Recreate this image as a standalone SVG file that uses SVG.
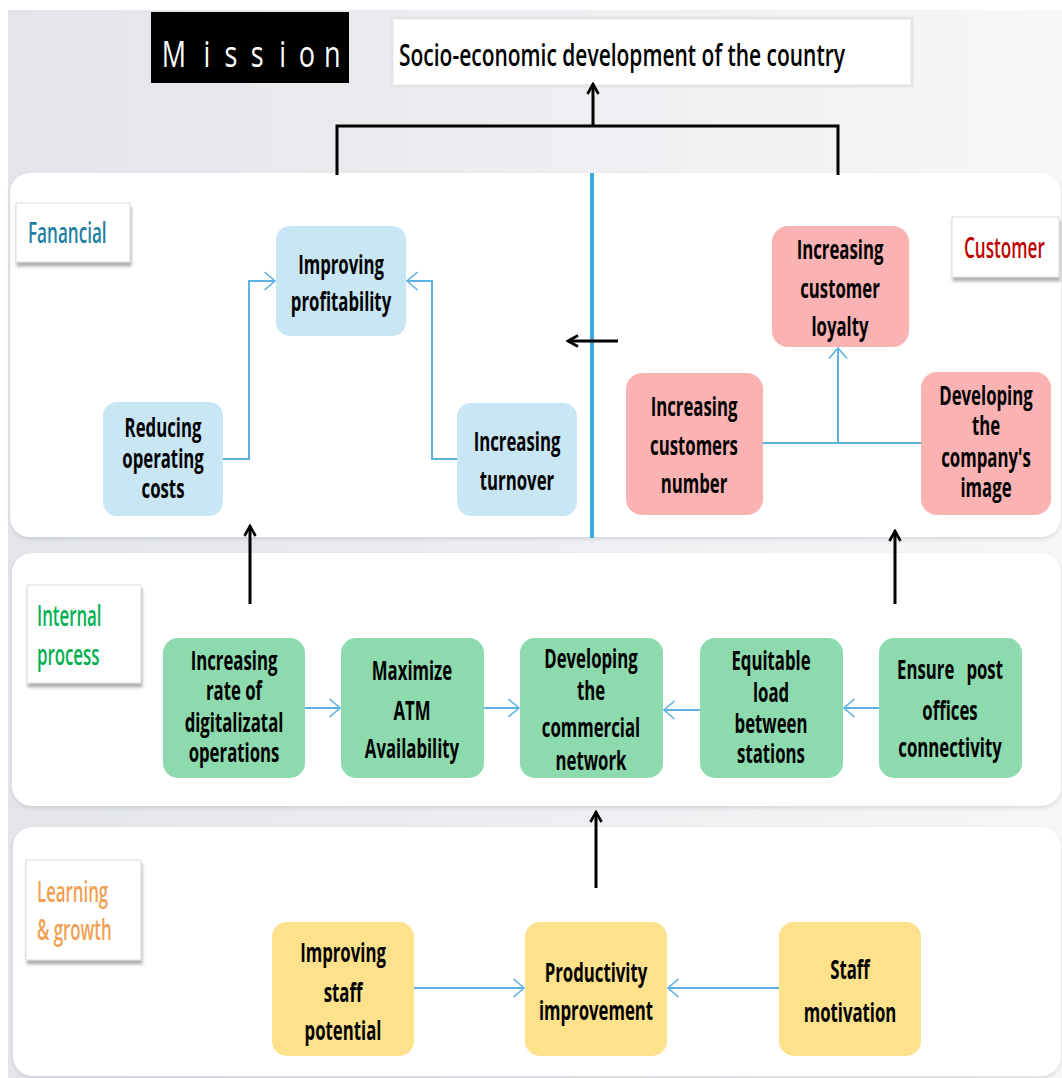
<svg xmlns="http://www.w3.org/2000/svg" width="1062" height="1078" viewBox="0 0 1062 1078">
  <defs>
    <linearGradient id="bg" x1="0" y1="0" x2="1" y2="0">
      <stop offset="0" stop-color="#e3e5ea"/>
      <stop offset="1" stop-color="#f7f7f8"/>
    </linearGradient>
    <filter id="shadow" x="-20%" y="-20%" width="150%" height="160%">
      <feDropShadow dx="1" dy="4" stdDeviation="1.5" flood-color="#6f6f6f" flood-opacity="0.55"/>
    </filter>
    <filter id="panelShadow" x="-5%" y="-5%" width="110%" height="115%">
      <feDropShadow dx="0" dy="2" stdDeviation="2" flood-color="#9aa0aa" flood-opacity="0.35"/>
    </filter>
    <marker id="arrowBlue" markerUnits="userSpaceOnUse" markerWidth="14" markerHeight="22" viewBox="0 0 14 22" refX="12.5" refY="11" orient="auto">
      <path d="M2,2 L12.5,11 L2,20" fill="none" stroke="#5cb3e3" stroke-width="1.6"/>
    </marker>
    <marker id="arrowBlack" markerUnits="userSpaceOnUse" markerWidth="16" markerHeight="16" viewBox="0 0 16 16" refX="14" refY="8" orient="auto">
      <path d="M4,2.5 L14,8 L4,13.5" fill="none" stroke="#000" stroke-width="2.6"/>
    </marker>
  </defs>
  <style>
    .panel { fill: #ffffff; }
    .tag { fill: #ffffff; stroke: #dcdcdc; stroke-width: 1; }
    .tagtext { font-family: "Open Sans", "Noto Sans", sans-serif; font-weight: 600; font-size: 29px; }
    .fin { fill: #c8e6f4; }
    .cus { fill: #fbb2b2; }
    .ip { fill: #8ddaae; }
    .lg { fill: #fde18b; }
    .t { font-family: "Open Sans", "Noto Sans", sans-serif; font-weight: 700; font-size: 26px; fill: #000; text-anchor: middle; }
    .blue { fill: none; stroke: #5cb3e3; stroke-width: 2; }
    .black { fill: none; stroke: #000; stroke-width: 3; }
  </style>

  <!-- background -->
  <rect x="0" y="0" width="1062" height="1078" fill="#ffffff"/>
  <rect x="8" y="10" width="1054" height="1068" fill="url(#bg)"/>

  <!-- perspective panels -->
  <rect class="panel" x="10" y="173" width="1051" height="364" rx="20" filter="url(#panelShadow)"/>
  <rect class="panel" x="12" y="553" width="1049" height="253" rx="20" filter="url(#panelShadow)"/>
  <rect class="panel" x="13" y="827" width="1048" height="249" rx="20" filter="url(#panelShadow)"/>

  <!-- mission header -->
  <g id="mission">
    <rect x="151" y="12" width="198" height="71" fill="#000"/>
    <text transform="scale(0.75,1)" font-family="Open Sans, Noto Sans, sans-serif" font-size="36" fill="#fff" text-anchor="middle">
      <tspan x="232" y="67">M</tspan><tspan x="276" y="67">i</tspan><tspan x="308" y="67">s</tspan><tspan x="343" y="67">s</tspan><tspan x="377" y="67">i</tspan><tspan x="409" y="67">o</tspan><tspan x="443" y="67">n</tspan>
    </text>
  </g>
  <g id="goal">
    <rect x="392" y="18" width="520" height="68" fill="#ffffff" stroke="#e4e4e4" stroke-width="3"/>
    <text x="399" y="66" textLength="446" lengthAdjust="spacingAndGlyphs" font-family="Open Sans, Noto Sans, sans-serif" font-weight="600" font-size="31" fill="#000">Socio-economic development of the country</text>
  </g>

  <!-- perspective tags -->
  <g id="tag-financial">
    <rect class="tag" x="16" y="203" width="114" height="59" filter="url(#shadow)"/>
    <text class="tagtext" transform="translate(28,0) scale(0.59,1)" x="0" y="243" fill="#1f7fa3">Fanancial</text>
  </g>
  <g id="tag-customer">
    <rect class="tag" x="952" y="217" width="107" height="60" filter="url(#shadow)"/>
    <text class="tagtext" transform="translate(964,0) scale(0.59,1)" x="0" y="258" fill="#c00000">Customer</text>
  </g>
  <g id="tag-internal">
    <rect class="tag" x="27" y="585" width="114" height="98" filter="url(#shadow)"/>
    <text class="tagtext" transform="translate(37,0) scale(0.58,1)" fill="#00b050"><tspan x="0" y="626">Internal</tspan><tspan x="0" y="665">process</tspan></text>
  </g>
  <g id="tag-learning">
    <rect class="tag" x="26" y="860" width="115" height="100" filter="url(#shadow)"/>
    <text class="tagtext" transform="translate(37,0) scale(0.58,1)" fill="#f0a050"><tspan x="0" y="902">Learning</tspan><tspan x="0" y="940">&amp; growth</tspan></text>
  </g>

  <!-- connectors -->
  <g id="connectors">
    <!-- to mission -->
    <path class="black" d="M337,175 V126 H838 V175" stroke-width="3.5"/>
    <line class="black" x1="593" y1="126" x2="593" y2="84" stroke-width="2.5" marker-end="url(#arrowBlack)"/>
    <!-- customer to financial divider -->
    <line x1="592" y1="173" x2="592" y2="538" stroke="#3aa8d8" stroke-width="4"/>
    <line class="black" x1="618" y1="341" x2="568" y2="341" marker-end="url(#arrowBlack)"/>
    <!-- financial -->
    <polyline class="blue" points="223,459 249,459 249,281 275,281" marker-end="url(#arrowBlue)"/>
    <polyline class="blue" points="457,459 432,459 432,281 407,281" marker-end="url(#arrowBlue)"/>
    <!-- customer -->
    <line class="blue" x1="763" y1="443" x2="921" y2="443"/>
    <line class="blue" x1="838" y1="443" x2="838" y2="348" marker-end="url(#arrowBlue)"/>
    <!-- internal process to upper perspectives -->
    <line class="black" x1="250" y1="604" x2="250" y2="526" marker-end="url(#arrowBlack)"/>
    <line class="black" x1="895" y1="604" x2="895" y2="531" marker-end="url(#arrowBlack)"/>
    <!-- internal process chain -->
    <line class="blue" x1="305" y1="708" x2="340" y2="708" marker-end="url(#arrowBlue)"/>
    <line class="blue" x1="484" y1="708" x2="519" y2="708" marker-end="url(#arrowBlue)"/>
    <line class="blue" x1="700" y1="710" x2="664" y2="710" marker-end="url(#arrowBlue)"/>
    <line class="blue" x1="879" y1="708" x2="844" y2="708" marker-end="url(#arrowBlue)"/>
    <!-- learning to internal -->
    <line class="black" x1="596" y1="888" x2="596" y2="812" marker-end="url(#arrowBlack)"/>
    <!-- learning chain -->
    <line class="blue" x1="414" y1="988" x2="524" y2="988" marker-end="url(#arrowBlue)"/>
    <line class="blue" x1="779" y1="988" x2="668" y2="988" marker-end="url(#arrowBlue)"/>
  </g>

  <!-- financial nodes -->
  <g id="fin-profitability">
    <rect class="fin" x="276" y="226" width="130" height="110" rx="14"/>
    <text class="t" transform="translate(341,0) scale(0.645,1)"><tspan x="0" y="274">Improving</tspan><tspan x="0" y="311">profitability</tspan></text>
  </g>
  <g id="fin-costs">
    <rect class="fin" x="103" y="402" width="120" height="114" rx="14"/>
    <text class="t" transform="translate(163,0) scale(0.645,1)"><tspan x="0" y="437">Reducing</tspan><tspan x="0" y="468">operating</tspan><tspan x="0" y="498">costs</tspan></text>
  </g>
  <g id="fin-turnover">
    <rect class="fin" x="457" y="403" width="120" height="113" rx="14"/>
    <text class="t" transform="translate(517,0) scale(0.645,1)"><tspan x="0" y="451">Increasing</tspan><tspan x="0" y="490">turnover</tspan></text>
  </g>

  <!-- customer nodes -->
  <g id="cus-loyalty">
    <rect class="cus" x="772" y="226" width="137" height="121" rx="16"/>
    <text class="t" transform="translate(840,0) scale(0.645,1)"><tspan x="0" y="259">Increasing</tspan><tspan x="0" y="298">customer</tspan><tspan x="0" y="336">loyalty</tspan></text>
  </g>
  <g id="cus-number">
    <rect class="cus" x="626" y="373" width="137" height="142" rx="16"/>
    <text class="t" transform="translate(694,0) scale(0.645,1)"><tspan x="0" y="416">Increasing</tspan><tspan x="0" y="455">customers</tspan><tspan x="0" y="493">number</tspan></text>
  </g>
  <g id="cus-image">
    <rect class="cus" x="921" y="372" width="130" height="143" rx="16"/>
    <text class="t" transform="translate(986,0) scale(0.645,1)"><tspan x="0" y="405">Developing</tspan><tspan x="0" y="435">the</tspan><tspan x="0" y="467">company's</tspan><tspan x="0" y="497">image</tspan></text>
  </g>

  <!-- internal process nodes -->
  <g id="ip-digital">
    <rect class="ip" x="163" y="638" width="142" height="140" rx="15"/>
    <text class="t" transform="translate(234,0) scale(0.645,1)"><tspan x="0" y="670">Increasing</tspan><tspan x="0" y="700">rate of</tspan><tspan x="0" y="732">digitalizatal</tspan><tspan x="0" y="762">operations</tspan></text>
  </g>
  <g id="ip-atm">
    <rect class="ip" x="341" y="638" width="143" height="140" rx="15"/>
    <text class="t" transform="translate(412,0) scale(0.645,1)"><tspan x="0" y="680">Maximize</tspan><tspan x="0" y="720">ATM</tspan><tspan x="0" y="758">Availability</tspan></text>
  </g>
  <g id="ip-network">
    <rect class="ip" x="520" y="638" width="143" height="140" rx="15"/>
    <text class="t" transform="translate(591,0) scale(0.645,1)"><tspan x="0" y="668">Developing</tspan><tspan x="0" y="700">the</tspan><tspan x="0" y="737">commercial</tspan><tspan x="0" y="770">network</tspan></text>
  </g>
  <g id="ip-load">
    <rect class="ip" x="700" y="638" width="143" height="140" rx="15"/>
    <text class="t" transform="translate(771,0) scale(0.645,1)"><tspan x="0" y="670">Equitable</tspan><tspan x="0" y="702">load</tspan><tspan x="0" y="733">between</tspan><tspan x="0" y="763">stations</tspan></text>
  </g>
  <g id="ip-connectivity">
    <rect class="ip" x="879" y="638" width="143" height="140" rx="15"/>
    <text class="t" transform="translate(950,0) scale(0.645,1)"><tspan x="0" y="679" word-spacing="12">Ensure post</tspan><tspan x="0" y="720">offices</tspan><tspan x="0" y="757">connectivity</tspan></text>
  </g>

  <!-- learning and growth nodes -->
  <g id="lg-potential">
    <rect class="lg" x="272" y="922" width="142" height="134" rx="15"/>
    <text class="t" transform="translate(343,0) scale(0.645,1)"><tspan x="0" y="962">Improving</tspan><tspan x="0" y="1002">staff</tspan><tspan x="0" y="1040">potential</tspan></text>
  </g>
  <g id="lg-productivity">
    <rect class="lg" x="525" y="922" width="142" height="134" rx="15"/>
    <text class="t" transform="translate(596,0) scale(0.645,1)"><tspan x="0" y="982">Productivity</tspan><tspan x="0" y="1020">improvement</tspan></text>
  </g>
  <g id="lg-motivation">
    <rect class="lg" x="779" y="922" width="142" height="134" rx="15"/>
    <text class="t" transform="translate(850,0) scale(0.645,1)"><tspan x="0" y="979">Staff</tspan><tspan x="0" y="1022">motivation</tspan></text>
  </g>
</svg>
